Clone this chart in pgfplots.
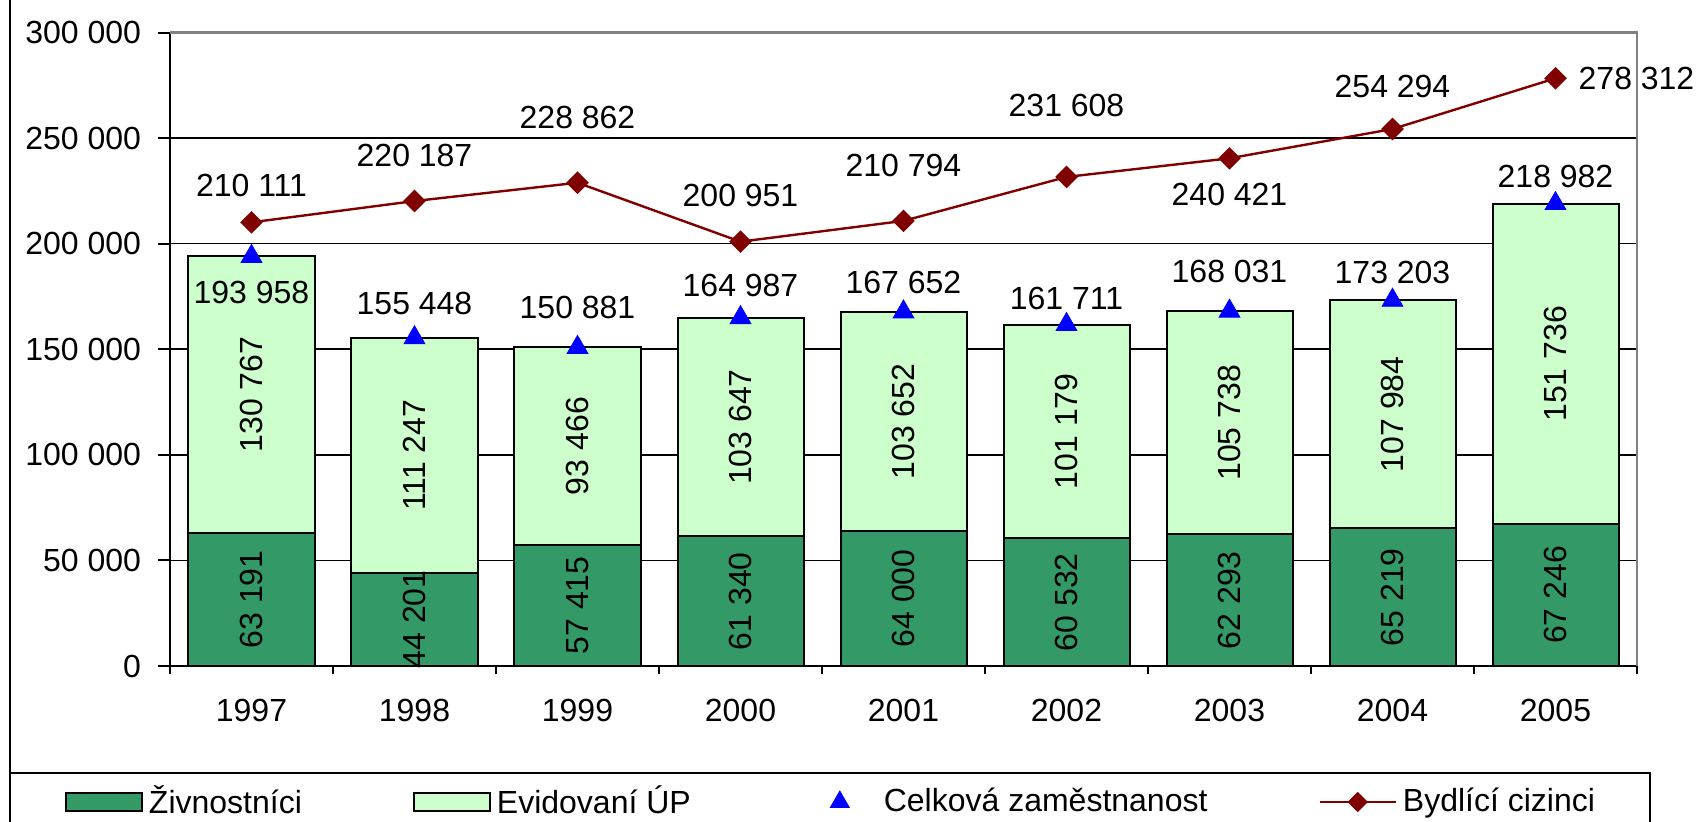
\documentclass[border=0pt]{standalone}
\usepackage{fontspec}
\setmainfont{Liberation Sans}
\usepackage{pgfplots}
\usepackage{pgfplotstable}
\pgfplotsset{compat=1.18}
\definecolor{dkgreen}{RGB}{51,153,102}
\definecolor{ltgreen}{RGB}{204,255,204}
\definecolor{dkred}{RGB}{128,0,0}
\definecolor{tblue}{RGB}{0,0,255}
\pgfkeys{/pgf/number format/.cd,fixed,precision=0,1000 sep={\ },assume math mode=true}

% z = Zivnostnici, e = Evidovani UP, t = Celkova zamestnanost, b = Bydlici cizinci
% tdy, bdy, bdx = label offsets (pt)
\pgfplotstableread{
x z e t b tdy bdy bdx
0 63191 130767 193958 210111 -17.9 18.4 0
1 44201 111247 155448 220187 17.3 22.8 0
2 57415 93466 150881 228862 20 32.5 0
3 61340 103647 164987 200951 16.3 23.3 0
4 64000 103652 167652 210794 14.6 27.6 0
5 60532 101179 161711 231608 13 35.8 0
6 62293 105738 168031 240421 20 -17.9 0
7 65219 107984 173203 254294 14 21.1 0
8 67246 151736 218982 278312 13.5 0 40.5
}\data

\pgfplotsset{
  common/.style={
    at={(85pt,-333pt)}, anchor=south west,
    scale only axis, width=733.5pt, height=316.75pt,
    xmin=-0.5, xmax=8.5, ymin=0, ymax=300000,
    clip=false,
    /pgf/number format/.cd,fixed,precision=0,1000 sep={\ },assume math mode=true,
  },
  lbl/.style={draw=none, mark=none, forget plot, nodes near coords, point meta=explicit,
    every node near coord/.append style={anchor=center, black}},
}

\begin{document}
\fontsize{16}{19}\selectfont
\begin{tikzpicture}
\path[use as bounding box] (0pt,0pt) rectangle (850pt,-410.5pt);
\draw[line width=1pt] (5pt,0pt) -- (5pt,-412pt);
\draw[line width=1pt] (5pt,-386.5pt) -- (825pt,-386.5pt) -- (825pt,-412pt);

\begin{axis}[common,
  ybar stacked, bar width=63pt,
  axis x line*=bottom, axis y line*=left,
  axis line style={black, line width=1pt},
  tick align=outside,
  ytick={0,50000,...,300000},
  scaled y ticks=false,
  major y tick style={black, line width=1pt},
  major tick length=6pt,
  yticklabel style={xshift=-3pt},
  xtick={0,...,8},
  xticklabels={1997,1998,1999,2000,2001,2002,2003,2004,2005},
  major x tick style={draw=none},
  minor xtick={-0.5,0.5,...,8.5},
  minor tick length=4pt,
  minor x tick style={black, line width=0.8pt},
  xticklabel style={yshift=-5pt},
  ymajorgrids,
  major grid style={black, line width=0.8pt},
  after end axis/.code={\draw[gray, line width=1.2pt] (rel axis cs:0,1) -- (rel axis cs:1,1) -- (rel axis cs:1,0);},
]
\addplot[fill=dkgreen, draw=black, line width=1pt, forget plot] table[x=x,y=z]{\data};
\addplot[fill=ltgreen, draw=black, line width=1pt, forget plot] table[x=x,y=e]{\data};
\end{axis}

\begin{axis}[common,
  axis lines=none,
  legend columns=4,
  legend cell align=left,
  legend style={at={(-0.07158,-0.2147)}, anchor=west, draw=none, fill=none,
    inner sep=0pt, outer sep=0pt, nodes={inner sep=3pt},
    /tikz/every even column/.append style={column sep=52.5pt}},
]
\addlegendimage{legend image code/.code={\draw[fill=dkgreen, draw=black, line width=1pt] (0pt,-4.5pt) rectangle (38pt,4.5pt);}}
\addlegendentry{Živnostníci}
\addlegendimage{legend image code/.code={\draw[fill=ltgreen, draw=black, line width=1pt] (0pt,-4.5pt) rectangle (38pt,4.5pt);}}
\addlegendentry{Evidovaní ÚP}
\addlegendimage{legend image code/.code={\path[draw=none, fill=none] (0pt,-4.5pt) rectangle (38pt,4.5pt); \draw[tblue, fill=tblue] plot[only marks, mark=triangle*, mark size=5.5pt] coordinates {(19pt,0pt)};}}
\addlegendentry{Celková zaměstnanost}
\addlegendimage{legend image code/.code={\draw[dkred, line width=1.2pt] (0pt,0pt) -- (38pt,0pt); \draw[dkred, fill=dkred] plot[only marks, mark=square*, mark size=3.4pt, mark options={rotate=45}] coordinates {(19pt,0pt)};}}
\addlegendentry{Bydlící cizinci}

% segment labels (rotated, centred in each segment)
\addplot[lbl, every node near coord/.append style={rotate=90}]
  table[x=x, y expr=\thisrow{z}/2, meta=z]{\data};
\addplot[lbl, every node near coord/.append style={rotate=90}]
  table[x=x, y expr=\thisrow{z}+\thisrow{e}/2, meta=e]{\data};

% total employment
\addplot[only marks, mark=triangle*, mark size=6pt, color=tblue, forget plot]
  table[x=x, y=t]{\data};
\addplot[lbl] table[x=x, y expr=\thisrow{t}+\thisrow{tdy}*947.1, meta=t]{\data};

% resident foreigners
\addplot[dkred, line width=1.2pt, mark=square*, mark size=3.4pt,
  mark options={rotate=45, fill=dkred}, forget plot]
  table[x=x, y=b]{\data};
\addplot[lbl] table[x expr=\thisrow{x}+\thisrow{bdx}/81.5, y expr=\thisrow{b}+\thisrow{bdy}*947.1, meta=b]{\data};
\end{axis}
\end{tikzpicture}
\end{document}
